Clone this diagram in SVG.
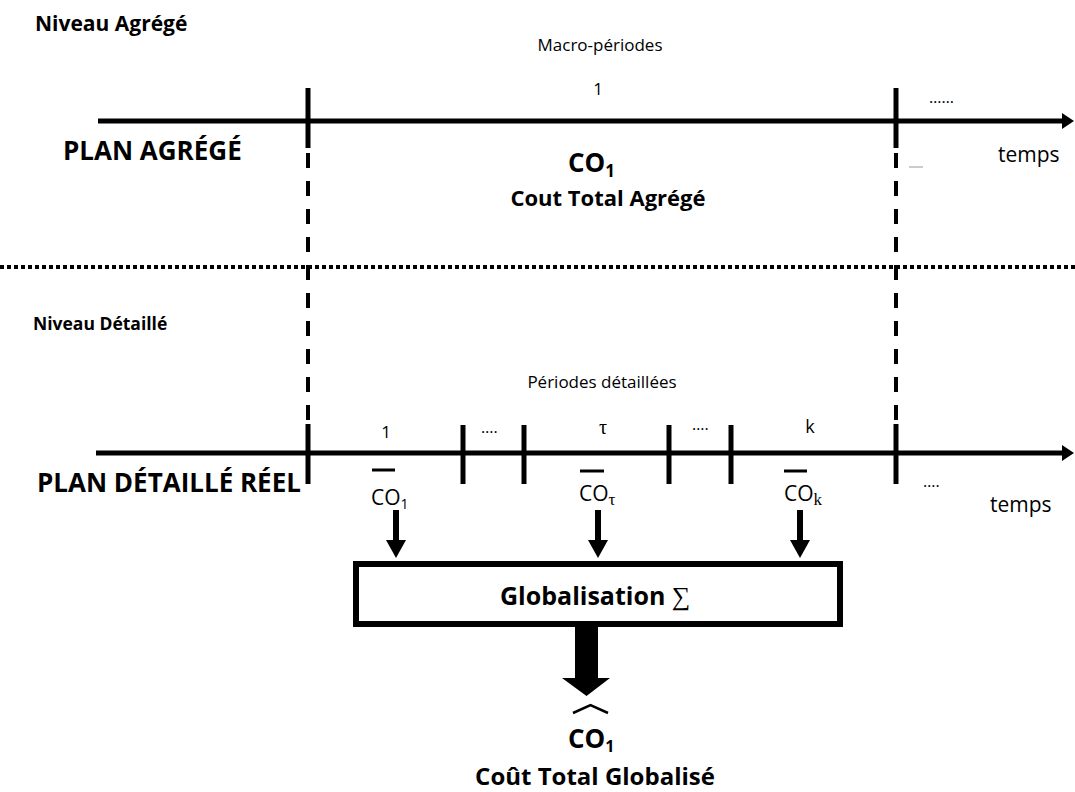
<svg xmlns="http://www.w3.org/2000/svg" width="1075" height="792" viewBox="0 0 1075 792">
<style>
text{font-family:"Open Sans","Liberation Sans",sans-serif;fill:#000}
.b{font-weight:bold}
.m{text-anchor:middle}
.ser{font-family:"Liberation Serif","DejaVu Serif",serif}
.axis{stroke:#000;stroke-width:5;fill:none}
.tick{stroke:#000;stroke-width:5}
.dash{stroke:#000;stroke-width:4;stroke-dasharray:15 13;fill:none}
.bar{stroke:#000;stroke-width:3}
</style>
<rect width="1075" height="792" fill="#fff"/>

<g id="labels-aggregate">
<text class="b" x="35" y="31" font-size="21">Niveau Agrégé</text>
<text class="b" x="63" y="160" font-size="26">PLAN AGRÉGÉ</text>
<text class="m" x="600" y="51" font-size="17">Macro-périodes</text>
<text class="m" x="598" y="95" font-size="17">1</text>
<text x="929" y="103" font-size="16">……</text>
<text x="998" y="162" font-size="21">temps</text>
</g>

<g id="aggregate-cost">
<text class="b" x="568" y="172" font-size="26">CO<tspan font-size="17" dy="5">1</tspan></text>
<text class="b m" x="608" y="206" font-size="22">Cout Total Agrégé</text>
</g>

<line x1="909" y1="167" x2="923" y2="167" stroke="#999" stroke-width="1"/>

<g id="separator">
<line x1="0" y1="267" x2="1075" y2="267" stroke="#000" stroke-width="4" stroke-dasharray="4 3"/>
</g>

<g id="labels-detailed">
<text class="b" x="33" y="330" font-size="17.5">Niveau Détaillé</text>
<text class="m" x="602" y="388" font-size="17">Périodes détaillées</text>
<text class="b" x="37" y="492" font-size="26">PLAN DÉTAILLÉ RÉEL</text>
<text class="m" x="386" y="438" font-size="17">1</text>
<text x="481" y="433" font-size="16">….</text>
<text class="m ser" x="603" y="434" font-size="20">τ</text>
<text x="692" y="430" font-size="16">….</text>
<text class="m" x="810" y="433" font-size="18">k</text>
<text x="923" y="487" font-size="16">….</text>
<text x="990" y="512" font-size="21">temps</text>
</g>

<g id="connectors">
<!-- top axis -->
<line class="axis" x1="98" y1="121" x2="1064" y2="121"/>
<polygon points="1062,113 1074,121 1062,129" fill="#000"/>
<line class="tick" x1="308" y1="88" x2="308" y2="148"/>
<line class="tick" x1="896" y1="88" x2="896" y2="148"/>
<!-- dashed verticals -->
<line class="dash" x1="308" y1="153" x2="308" y2="420"/>
<line class="dash" x1="896" y1="153" x2="896" y2="420"/>
<!-- bottom axis -->
<line class="axis" x1="96" y1="453" x2="1064" y2="453"/>
<polygon points="1062,445 1074,453 1062,461" fill="#000"/>
<line class="tick" x1="308" y1="424" x2="308" y2="484"/>
<line class="tick" x1="463" y1="425" x2="463" y2="484"/>
<line class="tick" x1="524" y1="425" x2="524" y2="484"/>
<line class="tick" x1="669" y1="425" x2="669" y2="484"/>
<line class="tick" x1="731" y1="425" x2="731" y2="484"/>
<line class="tick" x1="896" y1="424" x2="896" y2="484"/>
<!-- small arrows -->
<line x1="396" y1="510" x2="396" y2="542" stroke="#000" stroke-width="6"/>
<polygon points="386,540 406,540 396,558" fill="#000"/>
<line x1="598" y1="510" x2="598" y2="542" stroke="#000" stroke-width="6"/>
<polygon points="588,540 608,540 598,558" fill="#000"/>
<line x1="800" y1="510" x2="800" y2="542" stroke="#000" stroke-width="6"/>
<polygon points="790,540 810,540 800,558" fill="#000"/>
<!-- big arrow -->
<polygon points="575,627 598,627 598,678 610,678 586.5,696 562,678 575,678" fill="#000"/>
</g>

<g id="detail-costs">
<line class="bar" x1="372" y1="470" x2="395" y2="470"/>
<text x="371" y="505" font-size="21">CO<tspan font-size="14" dy="4">1</tspan></text>
<line class="bar" x1="580" y1="471" x2="604" y2="471"/>
<text x="579" y="501" font-size="21">CO<tspan class="ser" font-size="17" dy="4">τ</tspan></text>
<line class="bar" x1="784" y1="471" x2="807" y2="471"/>
<text x="784" y="501" font-size="21">CO<tspan class="ser" font-size="17" dy="4">k</tspan></text>
</g>

<g id="globalisation">
<rect x="356" y="564" width="484" height="60" fill="#fff" stroke="#000" stroke-width="6"/>
<text class="b" x="500" y="605" font-size="25">Globalisation <tspan class="ser" font-weight="normal" font-size="26">∑</tspan></text>
</g>

<g id="global-cost">
<path d="M573,713 L590.5,705 L608,713" fill="none" stroke="#000" stroke-width="2.5"/>
<text class="b" x="568" y="748" font-size="26">CO<tspan font-size="16" dy="4">1</tspan></text>
<text class="b m" x="595" y="785" font-size="24">Coût Total Globalisé</text>
</g>
</svg>
